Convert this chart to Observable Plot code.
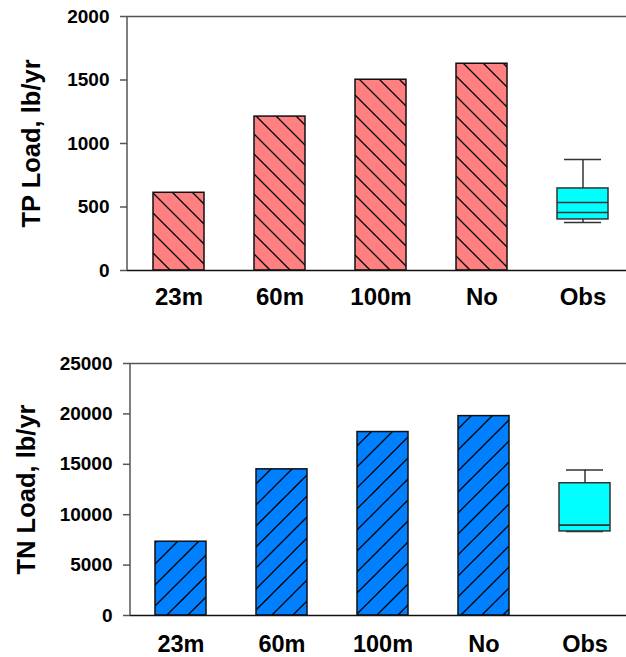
<!DOCTYPE html>
<html>
<head>
<meta charset="utf-8">
<script src="https://cdn.jsdelivr.net/npm/d3@7"></script>
<script src="https://cdn.jsdelivr.net/npm/@observablehq/plot@0.6"></script>
<style>
  html, body { margin: 0; padding: 0; background: #fff; overflow: hidden; }
  #chart { width: 626px; }
  #chart svg { display: block; overflow: hidden; }
  .defs { position: absolute; width: 0; height: 0; }
</style>
</head>
<body>
<svg class="defs" width="0" height="0">
  <defs>
    <pattern id="hatchTP" patternUnits="userSpaceOnUse" width="20" height="20" x="0" y="0">
      <rect width="20" height="20" fill="#FF8080"></rect>
      <path d="M-5,-5 L25,25 M-5,15 L5,25 M15,-5 L25,5" stroke="#000" stroke-width="1.3"></path>
    </pattern>
    <pattern id="hatchTN" patternUnits="userSpaceOnUse" width="21" height="21" x="0" y="0">
      <rect width="21" height="21" fill="#0080FF"></rect>
      <path d="M-5,26 L26,-5 M-5,5 L5,-5 M16,26 L26,16" stroke="#000" stroke-width="1.3"></path>
    </pattern>
  </defs>
</svg>
<div id="chart"></div>
<script>
// ---- data ----
const categories = ["23m", "60m", "100m", "No", "Obs"];
const scenarios = ["23m", "60m", "100m", "No"];
const tpLoad = [612, 1212, 1502, 1628];
const tnLoad = [7320, 14500, 18200, 19780];
// Observed box statistics: [whisker low, q1, mean, median, q3, whisker high]
const tpObs = [378, 402, 457, 535, 646, 874];
const tnObs = [8340, 8340, 8960, 8960, 13120, 14440];
const tpTicks = [0, 500, 1000, 1500, 2000];
const tnTicks = [0, 5000, 10000, 15000, 20000, 25000];

const FONT = "'Liberation Sans', Arial, sans-serif";
const AXIS = "#555";

function panel(opts) {
  const bars = scenarios.map((c, i) => ({cat: c, v: opts.values[i]}));
  const [wl, q1, mean, med, q3, wh] = opts.obs;
  const box = [{cat: "Obs", wl, q1, mean, med, q3, wh}];
  const [ymin, ymax] = [opts.ticks[0], opts.ticks[opts.ticks.length - 1]];
  return Plot.plot({
    width: 626,
    height: opts.height,
    marginLeft: opts.left,
    marginRight: 0,
    marginTop: opts.top,
    marginBottom: opts.bottom,
    style: {fontFamily: FONT, fontWeight: "bold", color: "#000", background: "#fff"},
    x: {domain: categories, range: opts.xrange, paddingInner: 0.5, paddingOuter: 0.25, align: 0.5, axis: null},
    y: {domain: [ymin, ymax], axis: null},
    marks: [
      // frame top line
      Plot.ruleY([ymax], {stroke: AXIS, strokeWidth: 1.5}),
      Plot.axisY({ticks: opts.ticks, tickSize: opts.tickSize, tickPadding: opts.tickPadding,
        stroke: AXIS, strokeWidth: 1.5, fontSize: opts.yFont, fontWeight: "bold", label: null,
        tickFormat: d => String(d)}),
      // bars
      Plot.barY(bars, {x: "cat", y: "v", fill: opts.hatch, stroke: "#111", strokeWidth: 1.5}),
      // box plot
      Plot.ruleX(box, {x: "cat", y1: "q3", y2: "wh", stroke: "#333", strokeWidth: 1.5}),
      Plot.ruleX(box, {x: "cat", y1: "wl", y2: "q1", stroke: "#333", strokeWidth: 1.5}),
      Plot.tickY(box, {x: "cat", y: "wh", stroke: "#333", strokeWidth: 1.5, insetLeft: 7, insetRight: 7}),
      Plot.tickY(box, {x: "cat", y: "wl", stroke: "#333", strokeWidth: 1.5, insetLeft: 7, insetRight: 7}),
      Plot.barY(box, {x: "cat", y1: "q1", y2: "q3", fill: "#00FFFF", stroke: "#333", strokeWidth: 1.5}),
      Plot.tickY(box, {x: "cat", y: "med", stroke: "#333", strokeWidth: 1.5}),
      Plot.tickY(box, {x: "cat", y: "mean", stroke: "#333", strokeWidth: 1.5}),
      // baseline
      Plot.ruleY([ymin], {stroke: "#111", strokeWidth: 1.5}),
      Plot.axisX({tickSize: 0, tickPadding: opts.xPad, fontSize: opts.xFont, fontWeight: "bold", label: null}),
      Plot.text([opts.label], {frameAnchor: "left", dx: opts.labelDx, rotate: -90,
        fontSize: opts.labelFont, fontWeight: "bold", fill: "#000", textAnchor: "middle", lineAnchor: "middle"})
    ]
  });
}

function addLeftLine(svg, left, top, bottom) {
  const ns = "http://www.w3.org/2000/svg";
  const l = document.createElementNS(ns, "line");
  l.setAttribute("x1", left); l.setAttribute("x2", left);
  l.setAttribute("y1", top); l.setAttribute("y2", bottom);
  l.setAttribute("stroke", AXIS); l.setAttribute("stroke-width", 1.5);
  svg.appendChild(l);
}

const chart = document.getElementById("chart");
const tp = panel({
  values: tpLoad, obs: tpObs, ticks: tpTicks, height: 320, left: 127, top: 16, bottom: 50,
  xrange: [127, 634], hatch: "url(#hatchTP)", tickSize: 7, tickPadding: 11,
  yFont: 19, xFont: 24, xPad: 17, label: "TP Load, lb/yr", labelDx: -96, labelFont: 25.5
});
chart.appendChild(tp);
addLeftLine(tp, 127, 16, 270);

const tn = panel({
  values: tnLoad, obs: tnObs, ticks: tnTicks, height: 337, left: 130, top: 43, bottom: 42,
  xrange: [130, 635], hatch: "url(#hatchTN)", tickSize: 7, tickPadding: 11,
  yFont: 19, xFont: 23.5, xPad: 20, label: "TN Load, lb/yr", labelDx: -104, labelFont: 25.5
});
chart.appendChild(tn);
addLeftLine(tn, 130, 43, 295);
</script>
</body>
</html>
